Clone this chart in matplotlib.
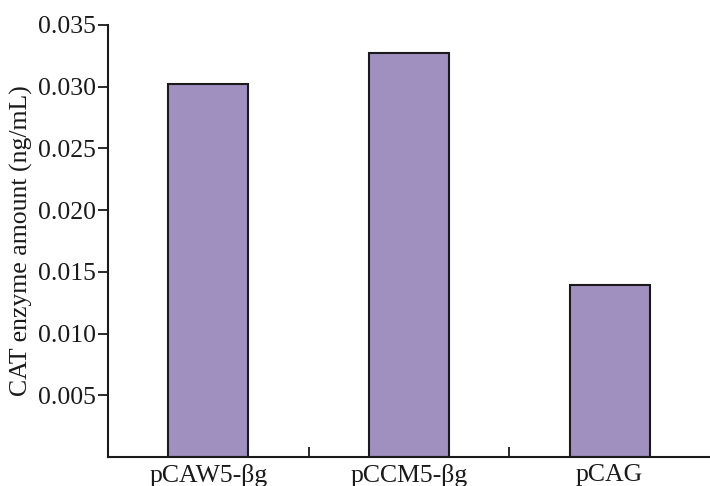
import matplotlib.pyplot as plt
from matplotlib.ticker import FixedLocator

plt.rcParams["font.family"] = ["Liberation Serif", "DejaVu Serif"]

CATEGORIES = ["pCAW5-βg", "pCCM5-βg", "pCAG"]
VALUES = [0.0302, 0.0327, 0.0139]
Y_TICKS = [0.005, 0.010, 0.015, 0.020, 0.025, 0.030, 0.035]

BAR_COLOR = "#9f90c0"
FS = 18.5


def main() -> None:
    fig = plt.figure(figsize=(7.1, 4.86), dpi=100)
    ax = fig.add_axes([0.152, 0.0597, 0.848, 0.889])

    x = list(range(len(CATEGORIES)))
    ax.bar(x, VALUES, width=0.4, color=BAR_COLOR, edgecolor="#1a1a1a",
           linewidth=1.5, zorder=2)

    ax.set_xlim(-0.5, 2.5)
    ax.set_ylim(0, 0.035)
    ax.set_yticks(Y_TICKS)
    ax.set_yticklabels([f"{t:.3f}" for t in Y_TICKS])
    ax.set_xticks(x)
    ax.set_xticklabels(CATEGORIES)
    ax.xaxis.set_minor_locator(FixedLocator([0.5, 1.5]))

    ax.tick_params(axis="y", direction="out", length=7, width=1.3,
                   labelsize=FS, pad=1.5, colors="#1a1a1a")
    ax.tick_params(axis="x", which="major", length=0, labelsize=FS, pad=5,
                   colors="#1a1a1a")
    ax.tick_params(axis="x", which="minor", direction="in", length=7,
                   width=1.3, color="#1a1a1a")

    for side in ("top", "right"):
        ax.spines[side].set_visible(False)
    for side in ("left", "bottom"):
        ax.spines[side].set_linewidth(1.5)
        ax.spines[side].set_color("#1a1a1a")

    ax.set_ylabel("CAT enzyme amount (ng/mL)", fontsize=FS, labelpad=4,
                  color="#1a1a1a")

    fig.savefig("out.png", dpi=100)
    plt.close(fig)


if __name__ == "__main__":
    main()
